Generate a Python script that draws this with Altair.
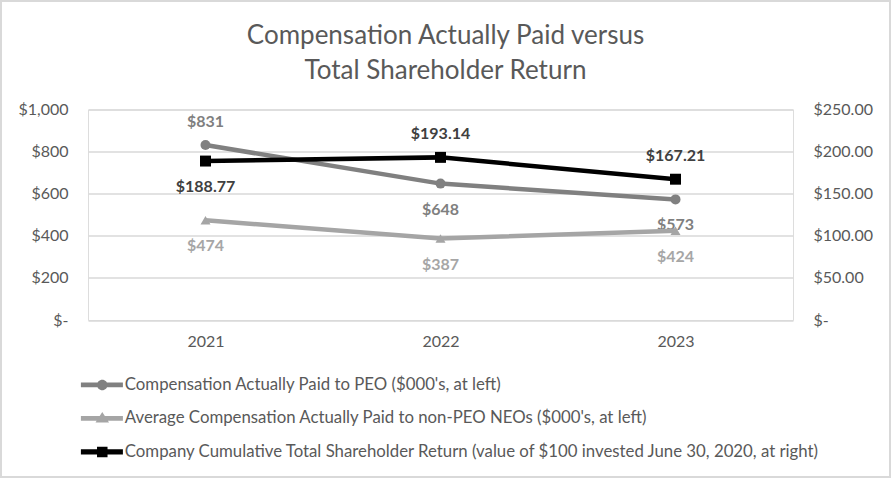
import altair as alt
import pandas as pd

# ---- data ----
years = ["2021", "2022", "2023"]
peo_cap = [831, 648, 573]
neo_cap = [474, 387, 424]
tsr_value = [188.77, 193.14, 167.21]

series_names = [
    "Compensation Actually Paid to PEO ($000's, at left)",
    "Average Compensation Actually Paid to non-PEO NEOs ($000's, at left)",
    "Company Cumulative Total Shareholder Return (value of $100 invested June 30, 2020, at right)",
]

# ---- styling ----
FONT = "Lato"
TXT = "#595959"
GRID = "#d9d9d9"
colors = ["#808080", "#a5a5a5", "#000000"]
label_colors = ["#7f7f7f", "#a6a6a6", "#404040"]
label_side = {  # placement of data labels (style)
    0: ["above", "below", "below"],
    1: ["below", "below", "below"],
    2: ["below", "above", "above"],
}

rows = []
for si, vals in enumerate([peo_cap, neo_cap, tsr_value]):
    for yi, (yr, v) in enumerate(zip(years, vals)):
        lab = ("$" + format(v, ",.0f")) if si < 2 else ("$" + format(v, ",.2f"))
        rows.append({"series": series_names[si], "sid": si, "year": yr,
                     "value": v, "label": lab, "side": label_side[si][yi]})
df = pd.DataFrame(rows)

W, H = 705, 210.5
PAD_L, PAD_T = 88, 109.5
AX_FS = 16

x_enc = alt.X("year:N", sort=years,
              scale=alt.Scale(type="point", padding=0.5),
              axis=alt.Axis(title=None, labelAngle=0, ticks=False, domain=False,
                            grid=False, labelFont=FONT, labelFontSize=AX_FS,
                            labelColor=TXT, labelPadding=13))

y_left = alt.Y("value:Q", scale=alt.Scale(domain=[0, 1000], nice=False),
               axis=alt.Axis(title=None, values=[0, 200, 400, 600, 800, 1000],
                             ticks=False, domain=False, grid=True,
                             gridColor=GRID, gridWidth=1.5,
                             labelFont=FONT, labelFontSize=AX_FS, labelColor=TXT,
                             labelPadding=20,
                             labelExpr="datum.value == 0 ? '$-\u00a0\u00a0\u00a0' : '$' + format(datum.value, ',')"))

y_right = alt.Y("value:Q", scale=alt.Scale(domain=[0, 250], nice=False),
                axis=alt.Axis(title=None, orient="right",
                              values=[0, 50, 100, 150, 200, 250],
                              ticks=False, domain=False, grid=False,
                              labelFont=FONT, labelFontSize=AX_FS, labelColor=TXT,
                              labelPadding=20,
                              labelExpr="datum.value == 0 ? '$-' : '$' + format(datum.value, ',.2f')"))

base = alt.Chart(df)

def series_layers(si, y_enc, shape, size):
    f = base.transform_filter(alt.datum.sid == si)
    line = f.mark_line(color=colors[si], strokeWidth=4.5).encode(x=x_enc, y=y_enc)
    pts = f.mark_point(shape=shape, filled=True, opacity=1, color=colors[si],
                       size=size).encode(x=x_enc, y=y_enc)
    above = f.transform_filter(alt.datum.side == "above").mark_text(
        font=FONT, fontSize=16, fontWeight="bold", color=label_colors[si],
        dy=-23, baseline="middle").encode(x=x_enc, y=y_enc, text="label:N")
    below = f.transform_filter(alt.datum.side == "below").mark_text(
        font=FONT, fontSize=16, fontWeight="bold", color=label_colors[si],
        dy=26, baseline="middle").encode(x=x_enc, y=y_enc, text="label:N")
    return [line, pts, above, below]

# legend symbols: line segment + marker (custom paths, filled)
legend_paths = [
    "M-4.6,-0.32H1V0.32H-4.6Z M-2.45,0A0.7,0.7 0 1,1 -1.05,0A0.7,0.7 0 1,1 -2.45,0Z",
    "M-4.6,-0.32H1V0.32H-4.6Z M-2.65,0.55L-1.75,-0.85L-0.85,0.55Z",
    "M-4.6,-0.36H1V0.36H-4.6Z M-2.45,-0.7H-1.05V0.7H-2.45Z",
]
leg = alt.Legend(title=None, orient="none", legendX=19, legendY=267,
                 direction="vertical", symbolSize=225, symbolOpacity=1,
                 symbolStrokeWidth=0, labelFont=FONT, labelFontSize=16.8,
                 labelColor=TXT, rowPadding=15.5, padding=0, labelOffset=1,
                 labelLimit=900)
legend_layer = base.mark_point(filled=True, opacity=0).encode(
    x=x_enc, y=y_left,
    color=alt.Color("series:N", scale=alt.Scale(domain=series_names, range=colors), legend=leg),
    shape=alt.Shape("series:N", scale=alt.Scale(domain=series_names, range=legend_paths), legend=leg),
)

left = alt.layer(*(series_layers(0, y_left, "circle", 100)
                   + series_layers(1, y_left, "triangle-up", 100)
                   + [legend_layer]))
right = alt.layer(*series_layers(2, y_right, "square", 120))

border = alt.Chart(alt.Data(values=[{}])).mark_rect(
    fill=None, stroke=GRID, strokeWidth=2, clip=False).encode(
    x=alt.value(-PAD_L + 1), x2=alt.value(891 - PAD_L - 1),
    y=alt.value(-PAD_T + 1), y2=alt.value(478 - PAD_T - 1))

chart = alt.layer(border, left, right).resolve_scale(
    y="independent", color="shared", shape="shared"
).properties(
    width=W, height=H,
    title=alt.TitleParams(["Compensation Actually Paid versus", "Total Shareholder Return"],
                          font=FONT, fontSize=26, fontWeight="normal", color=TXT,
                          lineHeight=35, anchor="middle", offset=-83.5, dx=5),
    autosize=alt.AutoSizeParams(type="none"),
    padding={"left": PAD_L, "top": PAD_T, "right": 891 - PAD_L - W, "bottom": 478 - PAD_T - H},
).configure_view(stroke=None).configure(background="white")

chart.save("out.html", embed_options={"renderer": "svg", "actions": False})
